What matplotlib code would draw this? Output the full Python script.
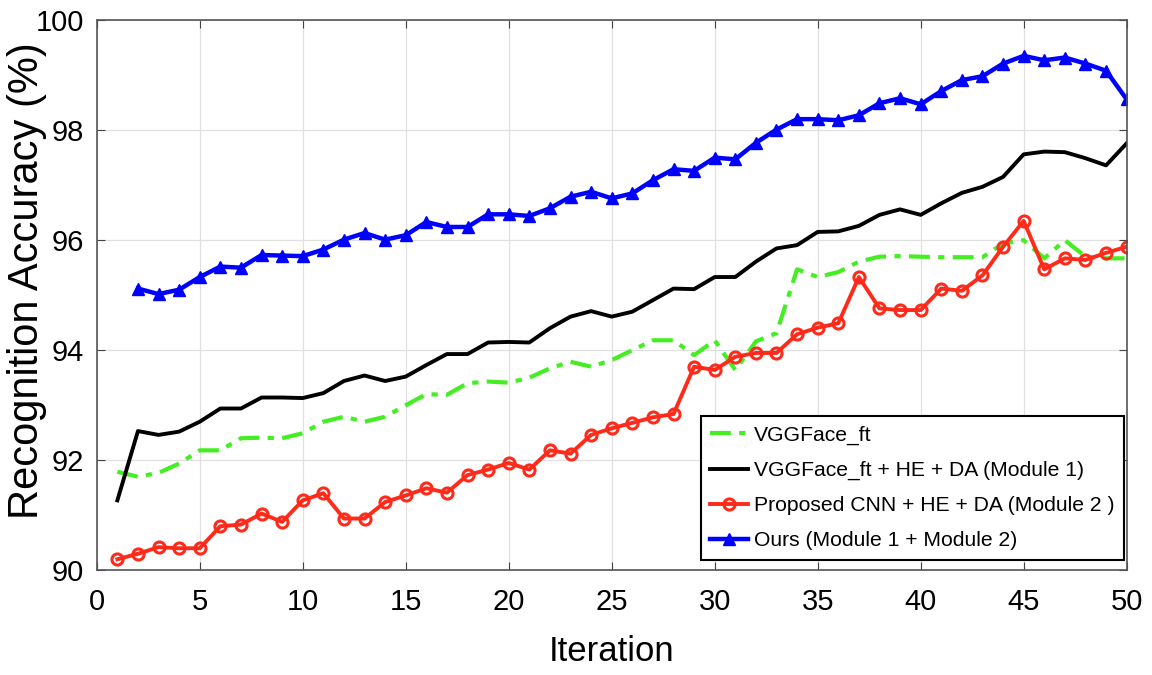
import matplotlib
matplotlib.use("Agg")
import matplotlib.pyplot as plt
import numpy as np

plt.rcParams['font.family'] = ['Liberation Sans', 'DejaVu Sans']

##==================== data ====================
it_all = list(range(1, 51))
it_ours = list(range(2, 51))

vggface_ft = [91.78, 91.69, 91.76, 91.93, 92.17, 92.17, 92.39, 92.40, 92.39, 92.48,
              92.69, 92.78, 92.69, 92.78, 92.99, 93.19, 93.18, 93.39, 93.42, 93.40,
              93.49, 93.66, 93.78, 93.69, 93.81, 93.99, 94.17, 94.17, 93.90, 94.17,
              93.63, 94.15, 94.30, 95.46, 95.32, 95.41, 95.60, 95.69, 95.70, 95.69,
              95.68, 95.68, 95.68, 95.93, 95.99, 95.66, 95.99, 95.69, 95.66, 95.66]

module1 = [91.26, 92.52, 92.45, 92.51, 92.69, 92.93, 92.93, 93.13, 93.13, 93.12,
           93.21, 93.43, 93.53, 93.43, 93.51, 93.72, 93.92, 93.92, 94.13, 94.14,
           94.13, 94.39, 94.60, 94.70, 94.60, 94.69, 94.90, 95.11, 95.10, 95.32,
           95.32, 95.60, 95.84, 95.90, 96.14, 96.15, 96.25, 96.45, 96.55, 96.45,
           96.66, 96.85, 96.96, 97.14, 97.55, 97.60, 97.59, 97.48, 97.35, 97.75]

module2 = [90.19, 90.29, 90.41, 90.39, 90.39, 90.79, 90.82, 91.02, 90.87, 91.26,
           91.39, 90.93, 90.93, 91.23, 91.35, 91.48, 91.40, 91.72, 91.82, 91.94,
           91.82, 92.17, 92.11, 92.45, 92.57, 92.67, 92.77, 92.83, 93.69, 93.63,
           93.87, 93.94, 93.94, 94.28, 94.40, 94.48, 95.32, 94.75, 94.72, 94.72,
           95.11, 95.07, 95.35, 95.87, 96.34, 95.46, 95.66, 95.63, 95.76, 95.87]

ours = [95.11, 95.01, 95.09, 95.32, 95.51, 95.49, 95.72, 95.71, 95.70, 95.82,
        96.00, 96.12, 96.00, 96.08, 96.32, 96.23, 96.23, 96.46, 96.46, 96.43,
        96.57, 96.78, 96.87, 96.75, 96.84, 97.08, 97.28, 97.25, 97.49, 97.46,
        97.76, 98.00, 98.19, 98.19, 98.17, 98.26, 98.48, 98.57, 98.46, 98.70,
        98.90, 98.97, 99.20, 99.34, 99.26, 99.31, 99.20, 99.07, 98.55]

labels = ['VGGFace_ft',
          'VGGFace_ft + HE + DA (Module 1)',
          'Proposed CNN + HE + DA (Module 2 )',
          'Ours (Module 1 + Module 2)']

##==================== plotting ====================
fig = plt.figure(figsize=(11.52, 6.75), dpi=100)
ax = fig.add_axes([0.084, 0.156, 0.894, 0.815])

ax.plot(it_all, vggface_ft, color='#44ee22', lw=3, ls=(0, (5, 2, 1.5, 2)), label=labels[0])
ax.plot(it_all, module1, color='black', lw=2.8, label=labels[1])
ax.plot(it_all, module2, color='#ff2a1a', lw=2.8, marker='o', ms=8, mfc='none',
        mew=2.2, label=labels[2])
ax.plot(it_ours, ours, color='#0000ff', lw=3.2, marker='^', ms=9, label=labels[3])

ax.set_xlim(0, 50)
ax.set_ylim(90, 100)
ax.set_xticks(np.arange(0, 51, 5))
ax.set_yticks(np.arange(90, 101, 2))
ax.tick_params(direction='in', top=True, right=True, labelsize=21, length=6, color='#444444')
ax.tick_params(axis='x', pad=13)
ax.tick_params(axis='y', pad=9)
ax.grid(True, color='#e0e0e0', lw=0.9)
for s in ax.spines.values():
    s.set_color('#555555')
    s.set_linewidth(1.2)

ax.set_xlabel('Iteration', fontsize=25)
ax.set_ylabel('Recognition Accuracy (%)', fontsize=30)
ax.xaxis.set_label_coords(0.5, -0.118)
ax.yaxis.set_label_coords(-0.048, 0.525)

leg = ax.legend(loc='lower right', bbox_to_anchor=(0.997, 0.018), borderaxespad=0,
                fontsize=15.2, fancybox=False, edgecolor='black', framealpha=1,
                handlelength=1.8, borderpad=0.45, labelspacing=0.76, handletextpad=0.25)
leg.get_frame().set_linewidth(1.5)

fig.savefig('out.png', dpi=100)
